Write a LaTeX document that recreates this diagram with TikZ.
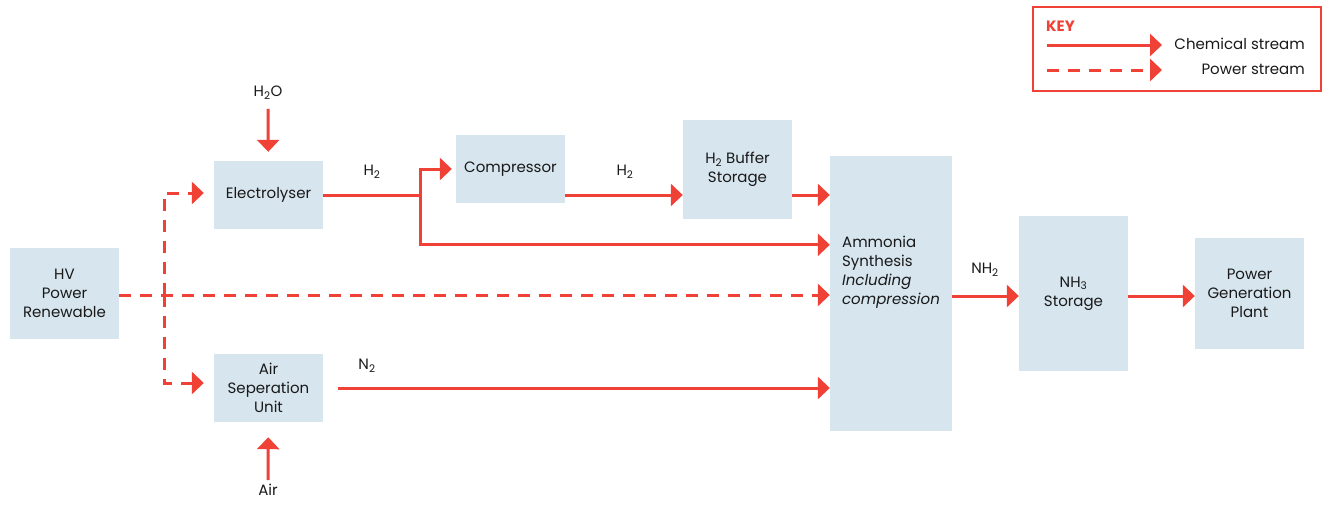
\documentclass[tikz,border=0pt]{standalone}
\usepackage{fontspec}
\setmainfont{Poppins}
\usepackage{xcolor}
\usepackage{tikz}
\usetikzlibrary{arrows.meta,calc}
\definecolor{flowred}{RGB}{239,65,54}
\definecolor{unitfill}{RGB}{215,229,238}
\definecolor{figtext}{RGB}{25,25,25}
\tikzset{
  unit/.style   ={fill=unitfill, inner sep=0pt, align=center, text=figtext,
                  font=\fontsize{15}{19}\selectfont},
  tag/.style    ={text=figtext, inner sep=1pt, font=\fontsize{15}{19}\selectfont},
  chem/.style   ={draw=flowred, line width=3pt, -{Triangle[length=12pt,width=22pt]}},
  chemline/.style ={draw=flowred, line width=3pt},
  power/.style  ={chem, dash pattern=on 12pt off 9pt},
}

\begin{document}
\begin{tikzpicture}[x=1pt,y=-1pt]
  \useasboundingbox (0,0) rectangle (1324,504);
  % process units
  \node[unit, minimum width=109, minimum height=91]  (hv)   at (64.5,293.5) {HV\\Power\\Renewable};
  \node[unit, minimum width=109, minimum height=68]  (elec) at (268.5,195) {Electrolyser};
  \node[unit, minimum width=109, minimum height=68]  (asu)  at (268.5,388) {Air\\Seperation\\Unit};
  \node[unit, minimum width=109, minimum height=68]  (comp) at (510.5,169) {Compressor};
  \node[unit, minimum width=109, minimum height=99]  (buf)  at (737.5,169.5) {H\textsubscript{2} Buffer\\Storage};
  \node[unit, minimum width=122, minimum height=275] (amm)  at (891,293.5) {};
  \node[unit, align=left, fill=none] (ammtxt) at (891,272)
    {Ammonia\\Synthesis\\\textit{Including}\\\textit{compression}};
  \node[unit, minimum width=109, minimum height=155] (nh3)  at (1073.5,293.5) {NH\textsubscript{3}\\Storage};
  \node[unit, minimum width=109, minimum height=111] (pgp)  at (1249.5,293.5) {Power\\Generation\\Plant};
  % feeds
  \node[tag] (h2o) at (268,93) {H\textsubscript{2}O};
  \node[tag] (air) at (268,490) {Air};
  \draw[chem, shorten <=8pt, shorten >=9pt] (h2o) -- (elec);
  \draw[chem, shorten <=3pt, shorten >=15pt] (air) -- (asu);
  % hydrogen line
  \coordinate (split) at (420,195);
  \draw[chemline] (elec.east) -- (split);
  \draw[chem, shorten >=4pt] (split) |- (comp.west);
  \draw[chem] (split) |- ($(amm.north west)+(0,89)$);
  \draw[chem] (comp.east |- 0,195) -- (buf.west |- 0,195);
  \draw[chem] (buf.east |- 0,195) -- (amm.west |- 0,195);
  \node[tag] (h2a) at (372,172) {H\textsubscript{2}};
  \node[tag] (h2b) at (625,172) {H\textsubscript{2}};
  % nitrogen line
  \draw[chem, shorten <=15pt] (asu.east) -- (asu.east -| amm.west);
  \node[tag] (n2) at (367,366) {N\textsubscript{2}};
  % power supply
  \coordinate (fork) at (164,295);
  \draw[power] (hv.east |- fork) -- (amm.west |- fork);
  \draw[power, shorten >=10pt] (fork) |- ($(elec.west)+(0,-2)$);
  \draw[power, shorten >=10pt] (fork) |- ($(asu.west)+(0,-5)$);
  % ammonia line
  \draw[chem] (amm.east |- 0,296) -- (nh3.west |- 0,296);
  \draw[chem] (nh3.east |- 0,296) -- (pgp.west |- 0,296);
  \node[tag] (nh2) at (985,270) {NH\textsubscript{2}};
  % key
  \draw[flowred, line width=1.6pt] (1033,7) rectangle (1321,91);
  \node[tag, anchor=west, text=flowred, font=\fontsize{15}{17}\selectfont\bfseries] (keyhd) at (1045,26) {KEY};
  \coordinate (ka) at (1047,45);
  \coordinate (kb) at (1162,45);
  \coordinate (kc) at (1047,70);
  \coordinate (kd) at (1162,70);
  \draw[chem] (ka) -- (kb);
  \draw[power] (kc) -- (kd);
  \node[tag, anchor=east] (kchem)  at (1306,44) {Chemical stream};
  \node[tag, anchor=east] (kpower) at (1306,69) {Power stream};
\end{tikzpicture}
\end{document}
